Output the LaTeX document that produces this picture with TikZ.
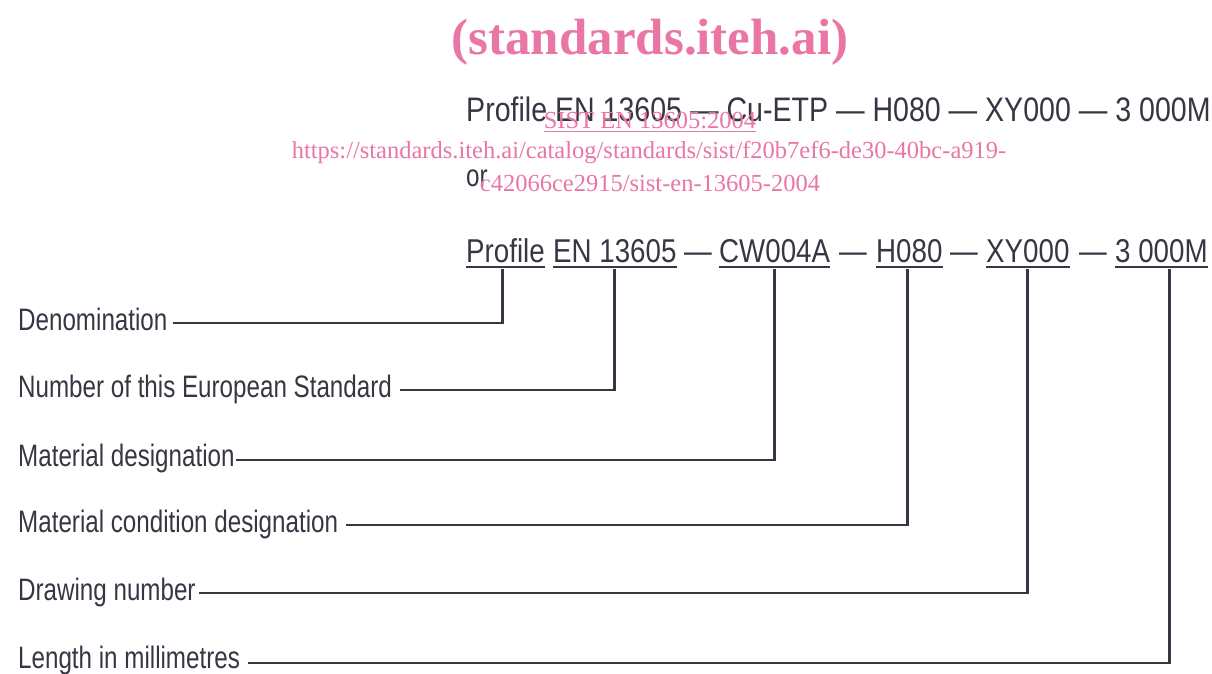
\documentclass[tikz,border=0pt]{standalone}
\usepackage{fontspec}
\setmainfont{Liberation Sans}[FakeStretch=0.78]
\newfontfamily\segfont{Liberation Sans}[FakeStretch=0.84, Ligatures=TeX]
\newfontfamily\wmfont{Liberation Serif}
\definecolor{ink}{RGB}{55,55,68}
\definecolor{wm}{RGB}{234,118,165}
\begin{document}
\begin{tikzpicture}[x=1pt,y=-1pt,
  lbl/.style={anchor=base west, inner sep=0pt, font=\fontsize{31}{31}\selectfont, text=ink},
  seg/.style={anchor=base west, inner sep=0pt, font=\segfont\fontsize{33}{33}\selectfont, text=ink},
  conn/.style={draw=ink, line width=2.8pt},
  uline/.style={draw=ink, line width=1.4pt},
  wmtext/.style={inner sep=0pt, text=wm, font=\wmfont\fontsize{24.5}{24.5}\selectfont}]
\useasboundingbox[fill=white] (0,0) rectangle (1212,673);

% watermark title
\node[inner sep=0pt, text=wm, font=\wmfont\bfseries\fontsize{51}{51}\selectfont] (wt) at (650,42) {(standards.iteh.ai)};

% first designation line
\node[seg, font=\segfont\fontsize{34}{34}\selectfont] (top) at (466,121) {Profile EN 13605 — Cu-ETP — H080 — XY000 — 3 000M};
\node[lbl] (or) at (466,186) {or};

% watermark overlay
\node[wmtext] (w1) at (650,122) {\underline{SIST EN 13605:2004}};
\node[wmtext] (w2) at (649,153) {https://standards.iteh.ai/catalog/standards/sist/f20b7ef6-de30-40bc-a919-};
\node[wmtext] (w3) at (650,183) {c42066ce2915/sist-en-13605-2004};

% second designation line
\node[seg] (p1) at (466,262) {Profile};
\node[seg] (p2) at (553,262) {EN 13605};
\node[seg] (d1) at (684,262) {—};
\node[seg] (p3) at (719,262) {CW004A};
\node[seg] (d2) at (839,262) {—};
\node[seg] (p4) at (876,262) {H080};
\node[seg] (d3) at (950,262) {—};
\node[seg] (p5) at (986,262) {XY000};
\node[seg] (d4) at (1079,262) {—};
\node[seg] (p6) at (1115,262) {3 000M};

\foreach \p in {p1,p2,p3,p4,p5,p6}
  \draw[uline] ([yshift=-5pt]\p.base west) -- ([yshift=-5pt]\p.base east);

% labels
\node[lbl] (l1) at (18,330) {Denomination};
\node[lbl] (l2) at (18,397) {Number of this European Standard};
\node[lbl] (l3) at (18,466) {Material designation};
\node[lbl] (l4) at (18,532) {Material condition designation};
\node[lbl] (l5) at (18,600) {Drawing number};
\node[lbl] (l6) at (18,668) {Length in millimetres};

% connectors
\draw[conn] ([shift={(5,-7)}]l1.base east) -| ([xshift=-3pt,yshift=-7pt]p1.base);
\draw[conn] ([shift={(8,-7)}]l2.base east) -| ([yshift=-7pt]p2.base);
\draw[conn] ([shift={(1,-6)}]l3.base east) -| ([yshift=-7pt]p3.base);
\draw[conn] ([shift={(8,-7)}]l4.base east) -| ([xshift=-2pt,yshift=-7pt]p4.base);
\draw[conn] ([shift={(3,-7)}]l5.base east) -| ([yshift=-7pt]p5.base);
\draw[conn] ([shift={(8,-5)}]l6.base east) -| ([xshift=8pt,yshift=-7pt]p6.base);
\end{tikzpicture}
\end{document}
